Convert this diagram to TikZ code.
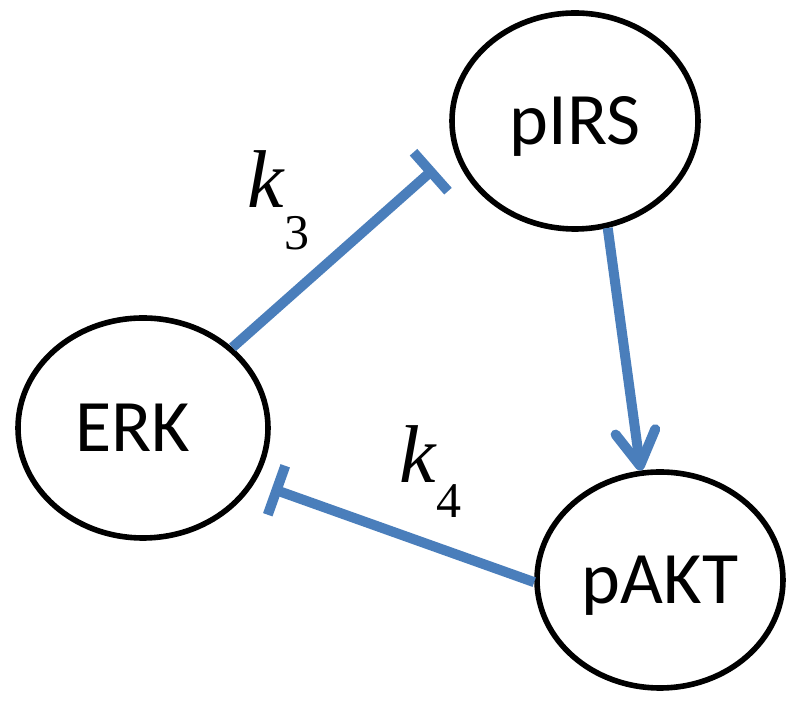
\documentclass[tikz,border=0pt]{standalone}
\usepackage{fontspec}
\setmainfont{Liberation Serif}
\newfontfamily\nodefont{Carlito}
\usetikzlibrary{arrows.meta,shapes.geometric}
\definecolor{pathblue}{RGB}{74,126,187}

\begin{document}
\begin{tikzpicture}[
  x=0.5pt, y=-0.5pt,
  protein/.style={ellipse, draw=black, line width=2.8pt, inner sep=0pt,
    minimum width=123pt, minimum height=108pt,
    font=\nodefont\fontsize{37}{44}\selectfont, text height=24pt, text depth=0pt},
  inhib/.style={draw=pathblue, line width=5pt, -{Bar[width=26pt]}},
  activ/.style={draw=pathblue, line width=5pt, -{Straight Barb[length=17pt,width=20pt,round]}},
  rate/.style={anchor=base west, inner sep=0pt, font=\fontsize{41}{41}\selectfont}
]
  \useasboundingbox (0,0) rectangle (800,704);

  % Proteinas
  \node[protein] (pIRS) at (575,121) {pIRS};
  \node[protein, minimum width=125pt, minimum height=110pt] (ERK) at (143,428) {ERK\hspace*{10pt}};
  \node[protein] (pAKT) at (660,580) {pAKT};

  % Aristas
  \draw[inhib, shorten >=13pt] (ERK.42) -- (pIRS.194);
  \draw[activ] (pIRS.287) -- (pAKT.100);
  \draw[inhib, shorten >=9pt] (pAKT.181) -- (ERK.334);

  % Etiquetas
  \node[rate] (k3) at (247,208) {\textit{k}\raisebox{-21pt}{\fontsize{25}{25}\selectfont 3}};
  \node[rate] (k4) at (399,483) {\textit{k}\raisebox{-17.5pt}{\fontsize{25}{25}\selectfont 4}};
\end{tikzpicture}
\end{document}
